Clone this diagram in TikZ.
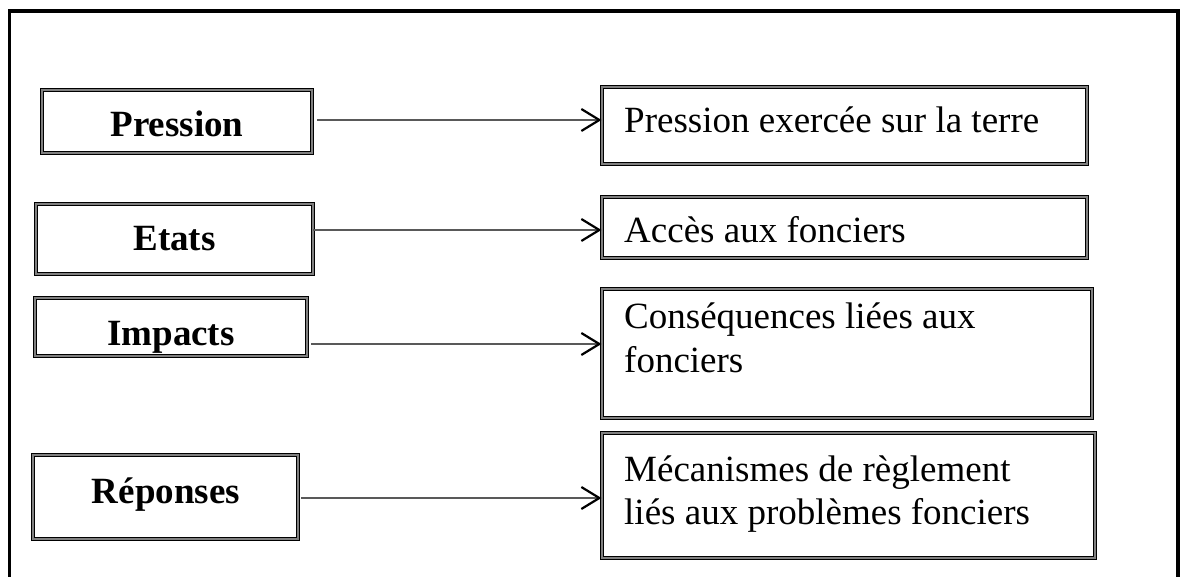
\documentclass[tikz,border=0pt]{standalone}
\usepackage{fontspec}
\setmainfont{Liberation Serif}
\usetikzlibrary{arrows.meta}
\begin{document}
\begin{tikzpicture}[x=1pt,y=-1pt,
  boxst/.style={draw=black, line width=1.1pt, double=gray, double distance=1.1pt,
    inner sep=0pt, minimum width=#1},
  lbl/.style={anchor=base, font=\fontsize{37}{43}\selectfont\bfseries, inner sep=0pt},
  txt/.style={anchor=base west, font=\fontsize{37}{43}\selectfont, inner sep=0pt},
  arr/.style={draw=gray!70!black, line width=2.8pt,
    -{Straight Barb[length=18pt,width=22pt,line width=2.2pt,color=black]}},
  frame/.style={draw=black, line width=3.2pt}
]
\useasboundingbox (0,0) rectangle (1181,577);
% outer frame (open at the bottom)
\coordinate (fbl) at (9.5,577);
\coordinate (ftl) at (9.5,11);
\coordinate (ftr) at (1178,11);
\coordinate (fbr) at (1178,577);
\draw[frame] (fbl) -- (ftl) -- (ftr) -- (fbr);

% left boxes
\node[boxst=270pt, minimum height=63pt] (l1) at (177,121.5) {};
\node[boxst=277pt, minimum height=70pt] (l2) at (174.5,239) {};
\node[boxst=272pt, minimum height=58pt] (l3) at (171,327) {};
\node[boxst=265pt, minimum height=84pt] (l4) at (165.5,497) {};

\node[lbl] (p1) at (177,137) {Pression};
\node[lbl] (p2) at (174.5,251) {Etats};
\node[lbl] (p3) at (171,345) {Impacts};
\node[lbl] (p4) at (166,503) {Réponses};

% right boxes
\node[boxst=485pt, minimum height=77pt] (r1) at (844.5,125.5) {};
\node[boxst=485pt, minimum height=61pt] (r2) at (844.5,227.5) {};
\node[boxst=490pt, minimum height=129pt] (r3) at (847,353.5) {};
\node[boxst=493pt, minimum height=125pt] (r4) at (848.5,495.5) {};

\node[txt] (q1) at (624,133) {Pression exercée sur la terre};
\node[txt] (q2) at (624,243) {Accès aux fonciers};
\node[txt] (q3a) at (624,329) {Conséquences liées aux};
\node[txt] (q3b) at (624,372) {fonciers};
\node[txt] (q4a) at (624,481) {Mécanismes de règlement};
\node[txt] (q4b) at (624,524) {liés aux problèmes fonciers};

% arrows
\coordinate (s1) at (317,120);
\coordinate (s2) at (313,230);
\coordinate (s3) at (311,344);
\coordinate (s4) at (301,498);
\draw[arr] (s1) -- (s1 -| r1.west);
\draw[arr] (s2) -- (s2 -| r2.west);
\draw[arr] (s3) -- (s3 -| r3.west);
\draw[arr] (s4) -- (s4 -| r4.west);
\end{tikzpicture}
\end{document}
